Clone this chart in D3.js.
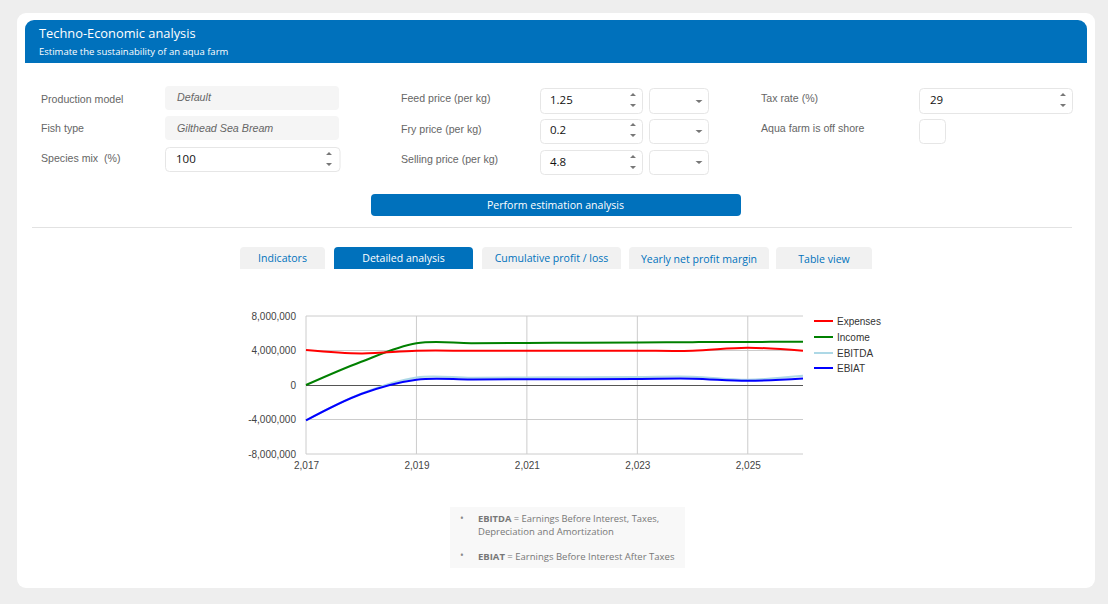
<!DOCTYPE html>
<html><head><meta charset="utf-8">
<script src="https://cdn.jsdelivr.net/npm/d3@7"></script>
<style>
html,body{margin:0;padding:0;background:#eeeeee;overflow:hidden}
svg{display:block}
text{white-space:pre}
</style></head><body>
<svg id="c" width="1108" height="604"></svg>
<script>
const years=[2017,2018,2019,2020,2021,2022,2023,2024,2025,2026];
const expenses=[4060000,3660000,3970000,3970000,3970000,3970000,3970000,3970000,4320000,3970000];
const income=[0,2700000,4830000,4850000,4880000,4910000,4940000,4970000,4990000,5020000];
const ebitda=[-4100000,-1000000,880000,830000,880000,900000,930000,960000,620000,1060000];
const ebiat=[-4100000,-1040000,620000,640000,660000,680000,700000,730000,480000,760000];
const yTicks=[-8000000,-4000000,0,4000000,8000000];
const xTicks=[2017,2019,2021,2023,2025];
const seriesNames=["Expenses","Income","EBITDA","EBIAT"];
const seriesColors=["#ff0000","#008000","#add8e6","#0000ff"];
const drawOrder=[2,3,1,0];
const seriesValues=[expenses,income,ebitda,ebiat];

const UI='"Open Sans",sans-serif', AR='"Liberation Sans",Arial,sans-serif', BLUE='#0071bc';
const svg=d3.select('#c');
const rect=(x,y,w,h,r,fill,stroke)=>svg.append('rect').attr('x',x).attr('y',y).attr('width',w).attr('height',h).attr('rx',r).attr('fill',fill).attr('stroke',stroke||'none');
const text=(x,y,s,size,fill,font,extra={})=>{const t=svg.append('text').attr('x',x).attr('y',y).text(s).attr('font-size',size).attr('fill',fill).attr('font-family',font);for(const k in extra)t.attr(k,extra[k]);return t;};
const spin=(x,y)=>{svg.append('path').attr('d',`M${x-3},${y-4}L${x},${y-7}L${x+3},${y-4}Z M${x-3},${y+4}L${x},${y+7}L${x+3},${y+4}Z`).attr('fill','#777');};
const caret=(x,y)=>{svg.append('path').attr('d',`M${x-3.5},${y-1.5}L${x+3.5},${y-1.5}L${x},${y+1.5}Z`).attr('fill','#777');};

rect(17,13,1078,575,9,'#fff');
svg.append('path').attr('d','M25,63V29a9,9 0 0 1 9,-9H1078a9,9 0 0 1 9,9V63Z').attr('fill',BLUE);
text(39,38,'Techno-Economic analysis',12.85,'#fff',UI);
text(39,55,'Estimate the sustainability of an aqua farm',9.5,'#fff',UI);

[['Production model',41,103],['Fish type',41,132],['Species mix  (%)',41,162],['Feed price (per kg)',401,102],['Fry price (per kg)',401,133],['Selling price (per kg)',401,163],['Tax rate (%)',761,102],['Aqua farm is off shore',761,132]]
 .forEach(d=>text(d[1],d[2],d[0],10.6,'#666',AR));
[[165,86,'Default',177,101],[165,116,'Gilthead Sea Bream',177,132]].forEach(d=>{
  rect(d[0],d[1],174,24,4,'#f5f5f5');
  text(d[3],d[4],d[2],10.7,'#666',AR,{'font-style':'italic'});
});
[[165.5,147.5,174.5,24,'100',176,329,163],[540.5,88.5,102,25,'1.25',550,633,104],[540.5,119.5,102,24,'0.2',550,633,134],[540.5,150.5,102,24,'4.8',550,633,166],[919.5,88.5,153,25,'29',930,1063,104]]
 .forEach(d=>{rect(d[0],d[1],d[2],d[3],4,'#fff','#e6e6e6');text(d[5],d[7],d[4],11.5,'#111',UI);spin(d[6],d[7]-4);});
[[649.5,88.5,59,25,101],[649.5,119.5,59,24,131],[649.5,150.5,59,24,162]].forEach(d=>{rect(d[0],d[1],d[2],d[3],4,'#fff','#e6e6e6');caret(699,d[4]+.5);});
rect(919.5,119.5,26,24,4,'#fff','#e6e6e6');

rect(371,194,370,22,4,BLUE);
text(555.5,209,'Perform estimation analysis',10.55,'#fff',UI,{'text-anchor':'middle'});
svg.append('line').attr('x1',32).attr('x2',1072).attr('y1',227.5).attr('y2',227.5).attr('stroke','#e2e2e2');

[[240,85,'Indicators',0,262],[334,139,'Detailed analysis',1,262],[482,139,'Cumulative profit / loss',0,262],[629,140,'Yearly net profit margin',0,263],[776,96,'Table view',0,263]].forEach(d=>{
  svg.append('path').attr('d',`M${d[0]},269V${251}a4,4 0 0 1 4,-4H${d[0]+d[1]-4}a4,4 0 0 1 4,4V269Z`).attr('fill',d[3]?BLUE:'#f1f1f1');
  text(d[0]+d[1]/2,d[4],d[2],10.55,d[3]?'#fff':BLUE,UI,{'text-anchor':'middle'});
});

// chart
const fmt=v=>d3.format(',')(v).replace('\u2212','-');
const x=d3.scaleLinear().domain([2017,2026]).range([306,803]);
const y=d3.scaleLinear().domain([-8000000,8000000]).range([454,316]);
const xAxis=d3.axisBottom(x).tickValues(xTicks).tickFormat(fmt).tickSize(0).tickPadding(8);
const yAxis=d3.axisLeft(y).tickValues(yTicks).tickFormat(fmt).tickSize(0).tickPadding(10);
const g=svg.append('g');
g.selectAll('.vg').data(xTicks).join('line').attr('x1',d=>x(d)).attr('x2',d=>x(d)).attr('y1',y.range()[1]).attr('y2',y.range()[0]).attr('stroke','#ccc');
g.selectAll('.hg').data(yTicks.filter(d=>d)).join('line').attr('x1',x.range()[0]).attr('x2',x.range()[1]).attr('y1',d=>y(d)).attr('y2',d=>y(d)).attr('stroke','#ccc');
g.append('line').attr('x1',x.range()[0]).attr('x2',x.range()[1]).attr('y1',y(0)+.5).attr('y2',y(0)+.5).attr('stroke','#555');
const ax=(sel)=>{sel.select('.domain').remove();sel.selectAll('text').attr('fill','#444').attr('font-size',10).attr('font-family',AR);};
svg.append('g').attr('transform',`translate(0,${y.range()[0]})`).call(xAxis).call(ax);
svg.append('g').attr('transform',`translate(${x.range()[0]},0)`).call(yAxis).call(ax);
const line=d3.line().x((d,i)=>x(years[i])).y(d=>y(d)).curve(d3.curveCatmullRom.alpha(0));
drawOrder.forEach(i=>{
  svg.append('path').attr('d',line(seriesValues[i])).attr('fill','none').attr('stroke',seriesColors[i]).attr('stroke-width',2);
});
seriesNames.forEach((n,i)=>{
  const ly=[321,337,353,368][i];
  svg.append('line').attr('x1',814).attr('x2',833).attr('y1',ly).attr('y2',ly).attr('stroke',seriesColors[i]).attr('stroke-width',2);
  text(837,ly+3.5,n,10,'#333',AR);
});

rect(450,507,235,61,0,'#f8f8f8');
[519,556].forEach(d=>text(460,d+3,'•',10,'#888',UI));
text(478,522,'',9.35,'#777',UI).call(t=>{t.append('tspan').attr('font-weight',700).text('EBITDA');t.append('tspan').text(' = Earnings Before Interest, Taxes,');});
text(478,535,'Depreciation and Amortization',9.5,'#777',UI);
text(478,560,'',9.5,'#777',UI).call(t=>{t.append('tspan').attr('font-weight',700).text('EBIAT');t.append('tspan').text(' = Earnings Before Interest After Taxes');});
</script></body></html>
